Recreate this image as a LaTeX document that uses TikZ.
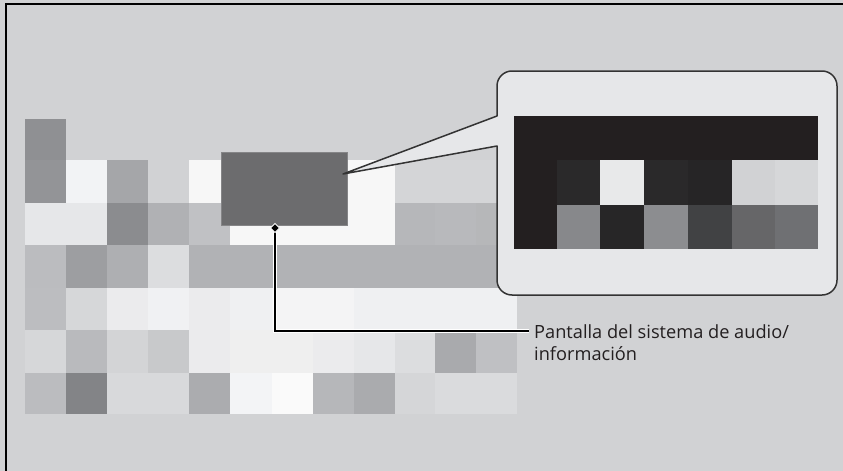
\documentclass[tikz,border=0pt]{standalone}
\usepackage{fontspec}
\setmainfont{Open Sans}
\def\xs{{25,66,107,148,189,230,272,313,354,395,435,476,517}}
\def\ys{{119,160,203,245,288,330,373,414}}
\def\bxs{{514,557,600,644,688,732,775,818}}
\def\bys{{116,160,205,249}}
\newcommand\mcell[3]{%
  \pgfmathsetmacro\xa{\xs[#1]}\pgfmathsetmacro\xb{\xs[#1+1]}%
  \pgfmathsetmacro\ya{\ys[#2]}\pgfmathsetmacro\yb{\ys[#2+1]}%
  \definecolor{tmpc}{HTML}{#3}\fill[tmpc] (\xa,\ya) rectangle (\xb,\yb);}
\newcommand\bcell[3]{%
  \pgfmathsetmacro\xa{\bxs[#1]}\pgfmathsetmacro\xb{\bxs[#1+1]}%
  \pgfmathsetmacro\ya{\bys[#2]}\pgfmathsetmacro\yb{\bys[#2+1]}%
  \definecolor{tmpc}{HTML}{#3}\fill[tmpc] (\xa,\ya) rectangle (\xb,\yb);}
\newcommand\mrow[2]{\foreach \c/\h in {#2}{\mcell{\c}{#1}{\h}}}
\newcommand\brow[2]{\foreach \c/\h in {#2}{\bcell{\c}{#1}{\h}}}
\definecolor{bg}{HTML}{D1D2D4}
\definecolor{bubblefill}{HTML}{E6E7E9}
\definecolor{bubbleline}{HTML}{333333}
\definecolor{screenfill}{HTML}{6C6C6E}
\definecolor{screenline}{HTML}{858587}
\definecolor{ink}{HTML}{231F20}
\begin{document}
\begin{tikzpicture}[x=1pt,y=-1pt,
  screenbox/.style={fill=screenfill,draw=screenline,line width=0.6pt,inner sep=0pt},
  bubble/.style={fill=bubblefill,draw=bubbleline,line width=1.5pt,line join=round},
  labeltext/.style={font=\fontsize{18.2}{22}\selectfont,text=ink,align=left,inner sep=0pt},
  halo/.style={draw=white,line width=3.6pt},
  leader/.style={draw=black,line width=2pt}]
\useasboundingbox (0,0) rectangle (843,471);
\fill[bg] (0,0) rectangle (843,471);
\draw[line width=1.5pt] (6,471) -- (6,4) -- (843,4);
% mosaic
\mrow{0}{0/8F9093}
\mrow{1}{0/939497,1/F2F3F5,2/A5A6A9,4/F7F7F7,5/F7F7F7,6/F7F7F7,7/F7F7F7,8/F7F7F7,9/D4D5D7,10/D4D5D7,11/D4D5D7}
\mrow{2}{0/E6E7E9,1/E6E7E9,2/8B8C8F,3/B0B1B4,4/C0C1C4,5/F7F7F7,6/F7F7F7,7/F7F7F7,8/F7F7F7,9/B6B7BA,10/B8B9BC,11/B6B7B9}
\mrow{3}{0/BBBCBF,1/9D9EA1,2/AEAFB2,3/DCDDDF,4/B1B2B5,5/B1B2B5,6/B1B2B5,7/B1B2B5,8/B1B2B5,9/B1B2B5,10/B1B2B5,11/B1B2B5}
\mrow{4}{0/BCBDC0,1/D6D7D9,2/EBEBED,3/F0F1F3,4/EBEBED,5/EFF0F2,6/F4F4F5,7/F4F4F5,8/EFF0F2,9/EFF0F2,10/EFF0F2,11/EFF0F2}
\mrow{5}{0/D6D7D9,1/B9BABD,2/D3D4D6,3/C8C9CB,4/EBEBED,5/EFEFEF,6/EFEFEF,7/EBEBED,8/E6E7E9,9/DCDDDF,10/A9AAAD,11/BFC0C3}
\mrow{6}{0/BBBCBF,1/838487,2/D8D9DB,3/D8D9DB,4/ABACAF,5/F3F4F6,6/FAFAFA,7/B6B7BA,8/AAABAE,9/D5D6D8,10/DADBDD,11/DADBDD}
% screen
\node[screenbox,minimum width=126pt,minimum height=73pt] (screen) at (284,188.5) {};
% callout bubble
\coordinate (apex) at (343,174);
\path[bubble] (apex) -- (497,116) [rounded corners=15pt] -- (497,71) -- (837,71) -- (837,295) -- (497,295) [sharp corners] -- (497,146) -- cycle;
\brow{0}{0/231F20,1/231F20,2/231F20,3/231F20,4/231F20,5/231F20,6/231F20}
\brow{1}{0/231F20,1/2A292A,2/E8E9EA,3/2A292A,4/262526,5/D1D2D4,6/D6D7D9}
\brow{2}{0/231F20,1/87888B,2/272627,3/8C8D90,4/414244,5/666668,6/6F7073}
% label and leader
\node[labeltext,anchor=base west] (label) at (534,360) {Pantalla del sistema de audio/\\información};
\coordinate (dot) at (275,228);
\coordinate (lend) at (529,331);
\path[halo] (dot) |- (lend);
\path[leader] (dot) |- (lend);
\filldraw[fill=black,draw=white,line width=0.8pt] ([yshift=-4.5pt]dot) -- ([xshift=4.5pt]dot) -- ([yshift=4.5pt]dot) -- ([xshift=-4.5pt]dot) -- cycle;
\end{tikzpicture}
\end{document}
